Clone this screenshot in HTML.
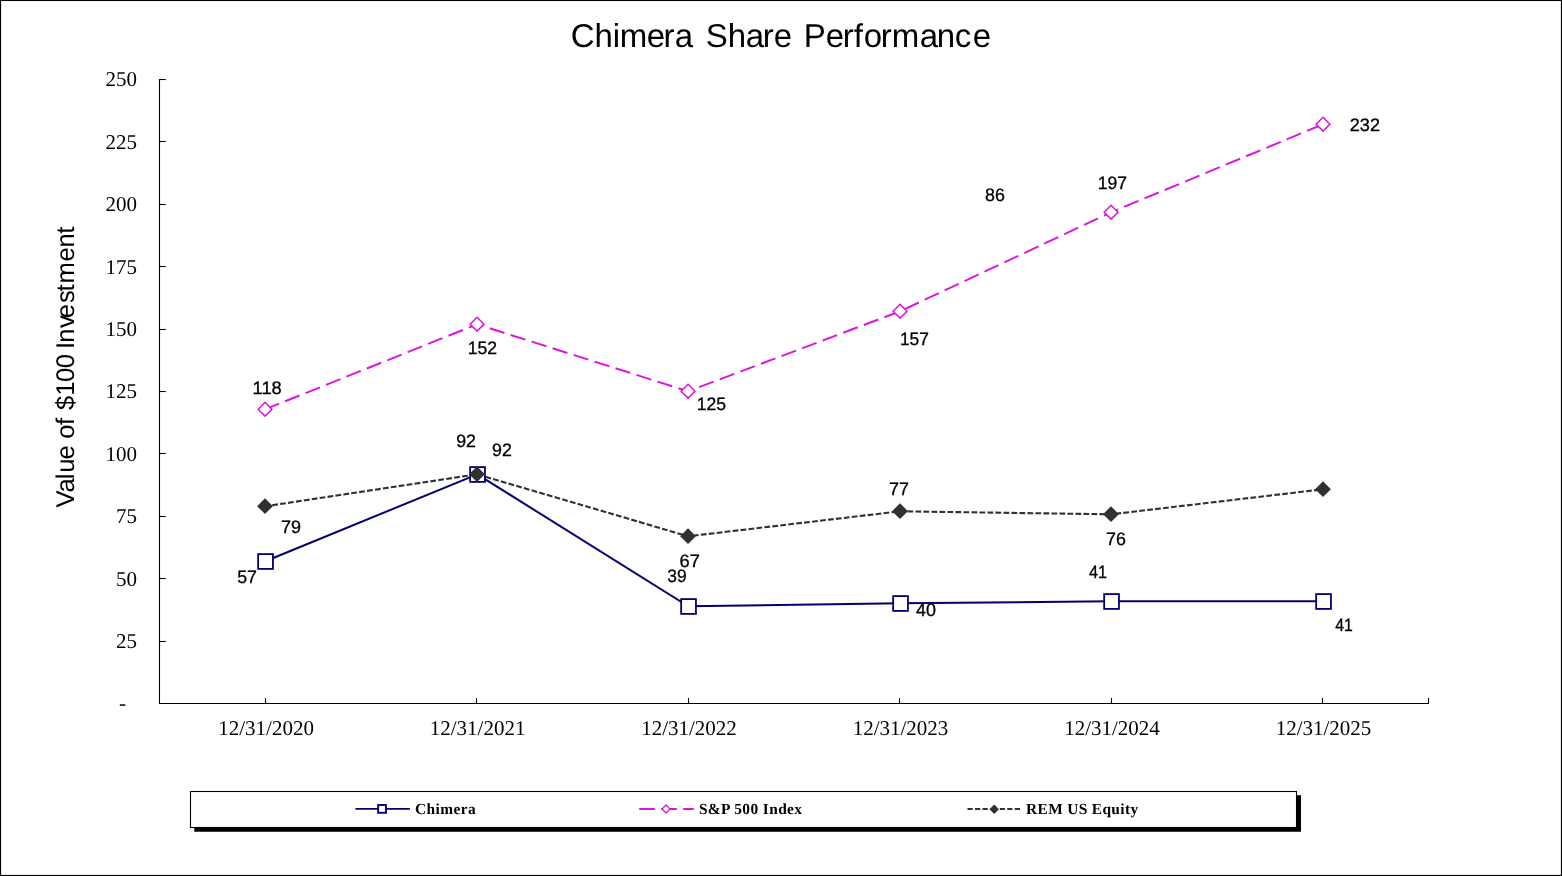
<!DOCTYPE html>
<html lang="en">
<head>
<meta charset="utf-8">
<title>Chimera Share Performance</title>
<style>
html,body{margin:0;padding:0;background:#fff;}
body{width:1562px;height:876px;overflow:hidden;}
svg{display:block;}
.sans{font-family:"Liberation Sans", Arial, sans-serif;}
.serif{font-family:"Liberation Serif", "Times New Roman", serif;}
text{fill:#000;text-rendering:geometricPrecision;}
</style>
</head>
<body>
<svg width="1562" height="876" viewBox="0 0 1562 876">
<rect x="0" y="0" width="1562" height="876" fill="#000"/>
<rect x="1.1" y="1.05" width="1559.8" height="873.85" fill="#fff"/>

<g class="sans" font-size="33">
<text x="570.67 594.46 612.79 619.66 646.75 663.56 674.75" y="46.8">Chimera</text>
<text x="705.85 727.66 745.75 762.86 773.65" y="46.8">Share</text>
<text x="803.64 825.75 842.76 853.63 863.66 880.76 891.86 919.65 936.76 954.85 972.85" y="46.8">Performance</text>
</g>
<g class="sans" font-size="25.6" transform="translate(74.2,0) rotate(-90)">
<text x="-507.61 -492.39 -479.32 -472.81 -459.39" y="0">Value</text>
<text x="-438.67 -425.06" y="0">of</text>
<text x="-409.97 -395.75 -382.00 -368.30" y="0">$100</text>
<text x="-349.06 -342.80 -327.89 -318.19 -302.91 -291.39 -283.40 -261.39 -247.40 -233.69" y="0">Investment</text>
</g>
<g stroke="#000" stroke-width="1.1" fill="none">
<path d="M159.5 79.0 V703.5 H1429.0"/>
<path d="M159.5 641.50 h6.3"/>
<path d="M159.5 578.50 h6.3"/>
<path d="M159.5 516.50 h6.3"/>
<path d="M159.5 453.50 h6.3"/>
<path d="M159.5 391.50 h6.3"/>
<path d="M159.5 329.50 h6.3"/>
<path d="M159.5 266.50 h6.3"/>
<path d="M159.5 204.50 h6.3"/>
<path d="M159.5 141.50 h6.3"/>
<path d="M159.5 79.50 h6.3"/>
<path d="M265.5 703.5 v-5.5"/>
<path d="M476.5 703.5 v-5.5"/>
<path d="M688.5 703.5 v-5.5"/>
<path d="M899.5 703.5 v-5.5"/>
<path d="M1111.5 703.5 v-5.5"/>
<path d="M1322.5 703.5 v-5.5"/>
<path d="M1428.5 703.5 v-5.5"/>
</g>
<g class="serif" font-size="21" text-anchor="end">
<text x="137" y="647.9">25</text>
<text x="137" y="585.5">50</text>
<text x="137" y="523.1">75</text>
<text x="137" y="460.7">100</text>
<text x="137" y="398.3">125</text>
<text x="137" y="335.9">150</text>
<text x="137" y="273.5">175</text>
<text x="137" y="211.1">200</text>
<text x="137" y="148.7">225</text>
<text x="137" y="86.3">250</text>
<text x="126" y="709.6">-</text>
</g>
<g class="serif" font-size="21" text-anchor="middle">
<text x="266.1" y="735">12/31/2020</text>
<text x="477.6" y="735">12/31/2021</text>
<text x="689.0" y="735">12/31/2022</text>
<text x="900.5" y="735">12/31/2023</text>
<text x="1112.0" y="735">12/31/2024</text>
<text x="1323.5" y="735">12/31/2025</text>
</g>
<polyline points="265.10,506.30 477.10,474.30 688.10,536.30 900.10,511.30 1111.10,514.30 1323.10,489.30" fill="none" stroke="#303030" stroke-width="2.1" stroke-dasharray="5.75 2.25" stroke-dashoffset="0.85"/>
<polyline points="265.10,409.30 477.10,324.30 688.10,391.30 900.10,311.30 1111.10,212.30 1323.10,124.30" fill="none" stroke="#dc14dc" stroke-width="1.95" stroke-dasharray="15.5 6.5" stroke-dashoffset="0.4"/>
<polyline points="265.30,561.30 477.30,474.30 688.30,606.30 900.30,603.30 1111.30,601.30 1323.30,601.30" fill="none" stroke="#000070" stroke-width="2"/>
<rect x="258.15" y="554.10" width="14.8" height="14.8" fill="#fff" stroke="#000070" stroke-width="1.8"/>
<rect x="470.15" y="467.10" width="14.8" height="14.8" fill="#fff" stroke="#000070" stroke-width="1.8"/>
<rect x="681.15" y="599.10" width="14.8" height="14.8" fill="#fff" stroke="#000070" stroke-width="1.8"/>
<rect x="893.15" y="596.10" width="14.8" height="14.8" fill="#fff" stroke="#000070" stroke-width="1.8"/>
<rect x="1104.15" y="594.10" width="14.8" height="14.8" fill="#fff" stroke="#000070" stroke-width="1.8"/>
<rect x="1316.15" y="594.10" width="14.8" height="14.8" fill="#fff" stroke="#000070" stroke-width="1.8"/>
<path d="M265.05 402.30 L271.95 409.20 L265.05 416.10 L258.15 409.20 Z" fill="#fff" stroke="#dc14dc" stroke-width="1.5"/>
<path d="M477.05 317.30 L483.95 324.20 L477.05 331.10 L470.15 324.20 Z" fill="#fff" stroke="#dc14dc" stroke-width="1.5"/>
<path d="M688.05 384.30 L694.95 391.20 L688.05 398.10 L681.15 391.20 Z" fill="#fff" stroke="#dc14dc" stroke-width="1.5"/>
<path d="M900.05 304.30 L906.95 311.20 L900.05 318.10 L893.15 311.20 Z" fill="#fff" stroke="#dc14dc" stroke-width="1.5"/>
<path d="M1111.05 205.30 L1117.95 212.20 L1111.05 219.10 L1104.15 212.20 Z" fill="#fff" stroke="#dc14dc" stroke-width="1.5"/>
<path d="M1323.05 117.30 L1329.95 124.20 L1323.05 131.10 L1316.15 124.20 Z" fill="#fff" stroke="#dc14dc" stroke-width="1.5"/>
<path d="M265.00 498.25 L272.90 506.15 L265.00 514.05 L257.10 506.15 Z" fill="#303030" stroke="none" stroke-width="0"/>
<path d="M477.00 466.25 L484.90 474.15 L477.00 482.05 L469.10 474.15 Z" fill="#303030" stroke="none" stroke-width="0"/>
<path d="M688.00 528.25 L695.90 536.15 L688.00 544.05 L680.10 536.15 Z" fill="#303030" stroke="none" stroke-width="0"/>
<path d="M900.00 503.25 L907.90 511.15 L900.00 519.05 L892.10 511.15 Z" fill="#303030" stroke="none" stroke-width="0"/>
<path d="M1111.00 506.25 L1118.90 514.15 L1111.00 522.05 L1103.10 514.15 Z" fill="#303030" stroke="none" stroke-width="0"/>
<path d="M1323.00 481.25 L1330.90 489.15 L1323.00 497.05 L1315.10 489.15 Z" fill="#303030" stroke="none" stroke-width="0"/>
<g class="sans" font-size="18" stroke="#000" stroke-width="0.3">
<text x="252.57" y="393.7" textLength="29.19" lengthAdjust="spacingAndGlyphs">118</text>
<text x="467.66" y="353.7" textLength="29.32" lengthAdjust="spacingAndGlyphs">152</text>
<text x="696.76" y="409.7" textLength="29.27" lengthAdjust="spacingAndGlyphs">125</text>
<text x="899.88" y="344.6" textLength="29.00" lengthAdjust="spacingAndGlyphs">157</text>
<text x="1097.66" y="188.8" textLength="29.32" lengthAdjust="spacingAndGlyphs">197</text>
<text x="1349.79" y="130.9" textLength="30.22" lengthAdjust="spacingAndGlyphs">232</text>
<text x="280.97" y="532.8" textLength="20.08" lengthAdjust="spacingAndGlyphs">79</text>
<text x="492.06" y="455.9" textLength="19.83" lengthAdjust="spacingAndGlyphs">92</text>
<text x="679.57" y="566.8" textLength="20.35" lengthAdjust="spacingAndGlyphs">67</text>
<text x="889.08" y="494.8" textLength="19.92" lengthAdjust="spacingAndGlyphs">77</text>
<text x="1106.08" y="544.8" textLength="19.90" lengthAdjust="spacingAndGlyphs">76</text>
<text x="985.12" y="200.9" textLength="19.86" lengthAdjust="spacingAndGlyphs">86</text>
<text x="237.19" y="582.8" textLength="19.70" lengthAdjust="spacingAndGlyphs">57</text>
<text x="456.16" y="446.8" textLength="19.83" lengthAdjust="spacingAndGlyphs">92</text>
<text x="667.34" y="581.7" textLength="19.39" lengthAdjust="spacingAndGlyphs">39</text>
<text x="916.09" y="615.6" textLength="19.91" lengthAdjust="spacingAndGlyphs">40</text>
<text x="1089.03" y="577.8" textLength="18.07" lengthAdjust="spacingAndGlyphs">41</text>
<text x="1335.24" y="630.7" textLength="17.64" lengthAdjust="spacingAndGlyphs">41</text>
</g>
<path d="M194.3 827.5 H1296.5 V795.3 H1301 V831.8 H194.3 Z" fill="#000"/>
<rect x="190.5" y="791.5" width="1106" height="36" fill="#fff" stroke="#000" stroke-width="1.1"/>
<path d="M355.4 808.9 H409.9" stroke="#000070" stroke-width="1.8" fill="none"/>
<rect x="378.15" y="805.00" width="7.8" height="7.8" fill="#fff" stroke="#000070" stroke-width="1.9"/>
<path d="M639.2 808.9 H693.8" stroke="#dc14dc" stroke-width="1.95" stroke-dasharray="15.6 6.4" fill="none"/>
<path d="M666.00 805.00 L670.00 809.00 L666.00 813.00 L662.00 809.00 Z" fill="#fff" stroke="#dc14dc" stroke-width="1.3"/>
<path d="M967.5 808.9 H994 M999.75 808.9 H1020.6" stroke="#303030" stroke-width="2" stroke-dasharray="5.2 2.3" fill="none"/>
<path d="M994.20 804.50 L998.90 809.20 L994.20 813.90 L989.50 809.20 Z" fill="#303030" stroke="none" stroke-width="0"/>
<g class="serif" font-size="15.4" font-weight="bold">
<text x="415.05" y="813.9" letter-spacing="0.420">Chimera</text>
<text x="698.88" y="813.7" letter-spacing="0.400">S&amp;P 500 Index</text>
<text x="1026.04" y="813.7" letter-spacing="0.358">REM US Equity</text>
</g>
</svg>
</body>
</html>
